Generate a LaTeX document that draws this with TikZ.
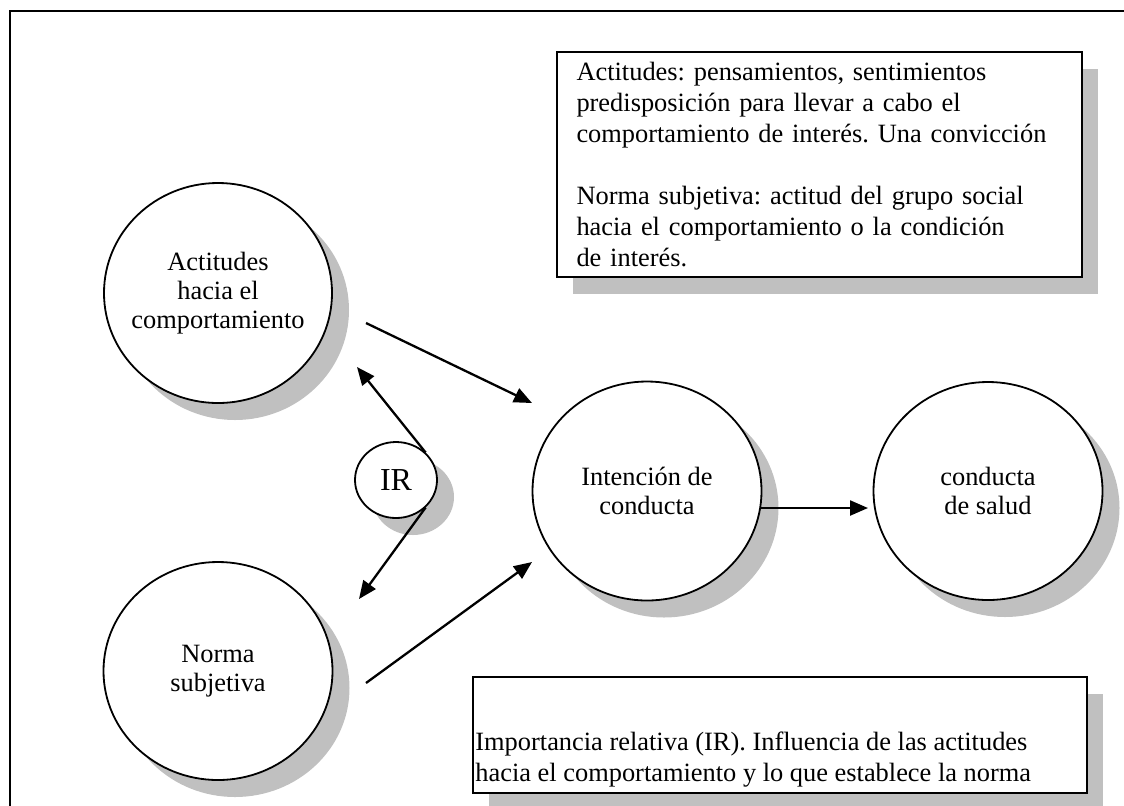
\documentclass[tikz,border=0pt]{standalone}
\usepackage{fontspec}
\setmainfont{Liberation Serif}
\frenchspacing
\usetikzlibrary{shapes.geometric,shadows,arrows.meta}
\definecolor{shade}{RGB}{192,192,192}

\begin{document}
\begin{tikzpicture}[x=0.5pt,y=-0.5pt,
  bubble/.style={ellipse,draw,line width=0.9pt,fill=white,align=center,inner sep=0pt,
    minimum width=114.5pt,minimum height=109.5pt,font=\fontsize{13.2}{14.5}\selectfont,
    drop shadow={shadow xshift=8.5pt,shadow yshift=-8.5pt,fill=shade,opacity=1}},
  note/.style={rectangle,draw,line width=1.1pt,fill=white,align=left,
    font=\fontsize{13.2}{15.5}\selectfont,
    drop shadow={shadow xshift=8pt,shadow yshift=-8.5pt,fill=shade,opacity=1}},
  arr/.style={-{Triangle[length=9pt,width=7.5pt]},line width=1.15pt}]
\useasboundingbox (0,0) rectangle (1124,805);
\draw[line width=1.2pt] (10,830)--(10,11)--(1150,11);

% notes
\node[note,minimum width=262.5pt,minimum height=112.5pt,text width=243pt,inner xsep=9.5pt] (defs) at (819.5,164.5)
  {Actitudes: pensamientos, sentimientos\\ predisposición para llevar a cabo el\\ comportamiento de interés. Una convicción\\[15.5pt]
   Norma subjetiva: actitud del grupo social\\ hacia el comportamiento o la condición\\ de interés.};
\node[note,minimum width=307pt,minimum height=58pt] (irnote) at (780,735) {};
\node[anchor=west,align=left,inner sep=0pt,font=\fontsize{13.2}{15.5}\selectfont] (irtext) at (475,760)
  {Importancia relativa (IR). Influencia de las actitudes\\ hacia el comportamiento y lo que establece la norma};

% circles
\node[bubble,inner sep=-10pt,minimum width=114pt,minimum height=110pt] (act) at (218,293) {Actitudes\\hacia el\\comportamiento};
\node[bubble,minimum height=109pt] (norma) at (218,671) {Norma\\subjetiva};
\node[bubble] (int) at (647,491) {Intención de\\conducta};
\node[bubble,minimum height=109pt] (cond) at (988,491) {conducta\\de salud};
\node[bubble,minimum width=41pt,minimum height=38pt,font=\fontsize{16}{18}\selectfont] (ir) at (396,480) {IR};

% arrows
\coordinate (a1) at (366,323); \coordinate (a2) at (532,403);
\coordinate (n1) at (366,683); \coordinate (n2) at (532,562);
\coordinate (r1) at (357,367); \coordinate (r2) at (359,599);
\coordinate (c1) at (760,508); \coordinate (c2) at (868,508);
\draw[arr] (a1)--(a2);
\draw[arr] (n1)--(n2);
\draw[arr] (ir.north east)--(r1);
\draw[arr] (ir.south east)--(r2);
\draw[arr] (c1)--(c2);
\end{tikzpicture}
\end{document}
